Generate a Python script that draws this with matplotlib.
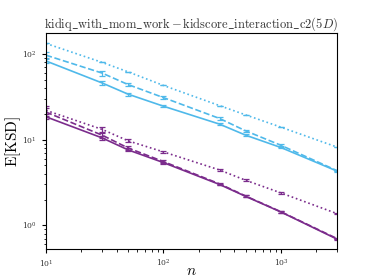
import matplotlib
matplotlib.use('Agg')
import matplotlib.pyplot as plt
import numpy as np

plt.rcParams['mathtext.fontset'] = 'cm'
plt.rcParams['font.family'] = 'serif'
plt.rcParams['font.serif'] = ['DejaVu Serif']

# sample sizes
n = [10, 30, 50, 100, 300, 500, 1000, 3000]

# cyan group
cyan_solid = [83, 46, 34, 24.6, 15.2, 11.3, 8.1, 4.3]
cyan_solid_err = [5, 3, 1.5, 0.8, 0.5, 0.3, 0.2, 0.05]
cyan_dashed = [97, 60, 44, 31, 17.7, 12.7, 8.6, 4.35]
cyan_dashed_err = [8, 4, 2, 1, 0.6, 0.4, 0.25, 0.05]
cyan_dotted = [133, 80, 62, 43, 25, 19.5, 14, 8.2]
cyan_dotted_err = [0, 0, 0, 0, 0, 0, 0, 0]

# purple group
purple_solid = [18.5, 10.5, 7.6, 5.4, 3.0, 2.18, 1.43, 0.69]
purple_solid_err = [1.2, 0.5, 0.3, 0.15, 0.07, 0.05, 0.03, 0.01]
purple_dashed = [21, 11.3, 8.0, 5.55, 3.05, 2.2, 1.44, 0.7]
purple_dashed_err = [2.5, 0.8, 0.4, 0.2, 0.08, 0.05, 0.03, 0.01]
purple_dotted = [22, 13.2, 9.7, 7.2, 4.43, 3.36, 2.39, 1.37]
purple_dotted_err = [3, 0.8, 0.4, 0.25, 0.12, 0.08, 0.06, 0.03]

cyan = '#4fb9ea'
purple = '#7b2c8c'

fig = plt.figure(figsize=(3.74, 2.8), dpi=100)
ax = fig.add_axes([0.123, 0.111, 0.778, 0.771])

series = [
    (cyan_solid, cyan_solid_err, cyan, '-'),
    (cyan_dashed, cyan_dashed_err, cyan, '--'),
    (cyan_dotted, cyan_dotted_err, cyan, ':'),
    (purple_solid, purple_solid_err, purple, '-'),
    (purple_dashed, purple_dashed_err, purple, '--'),
    (purple_dotted, purple_dotted_err, purple, ':'),
]
for ys, err, col, ls in series:
    ax.errorbar(n, ys, yerr=err, color=col, linestyle=ls, linewidth=1.2,
                capsize=2.5, elinewidth=0.9, capthick=0.9)

ax.set_xscale('log')
ax.set_yscale('log')
ax.set_xlim(10, 3000)
ax.set_ylim(0.53, 176)
ax.tick_params(labelsize=5.5, labelcolor='#333333')
ax.tick_params(which='major', length=3)
ax.tick_params(which='minor', length=1.8)
ax.set_xlabel('$n$', fontsize=11)
ax.set_ylabel(r'$\mathrm{E[KSD]}$', fontsize=11)
ax.xaxis.set_label_coords(0.5, -0.07)
ax.yaxis.set_label_coords(-0.08, 0.5)
ax.set_title(r'$\mathrm{kidiq\_with\_mom\_work} - \mathrm{kidscore\_interaction\_c2}(5D)$',
             fontsize=9, color='#333333', pad=4)

fig.savefig('out.png', dpi=100)
